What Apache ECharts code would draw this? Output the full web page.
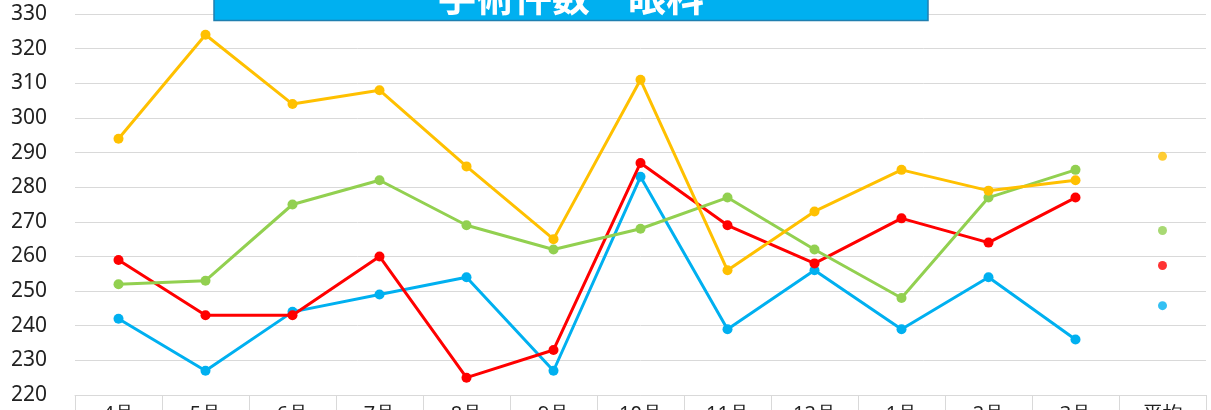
<!DOCTYPE html>
<html lang="ja">
<head>
    <meta charset="UTF-8">
    <title>手術件数 眼科</title>
    <script src="https://cdn.jsdelivr.net/npm/echarts@6/dist/echarts.min.js"></script>
    <style>
        html, body { margin: 0; padding: 0; background: #fff; }
    </style>
</head>
<body>
    <div id="lineDiv" style="width: 1211px;height:410px;"></div>
    <script>
        // 月ごとのカテゴリ
        var months = ['4月','5月','6月','7月','8月','9月','10月','11月','12月','1月','2月','3月','平均'];
        // 各系列の値（12か月）
        var orangeVals = [294, 324, 304, 308, 286, 265, 311, 256, 273, 285, 279, 282];
        var greenVals  = [252, 253, 275, 282, 269, 262, 268, 277, 262, 248, 277, 285];
        var redVals    = [259, 243, 243, 260, 225, 233, 287, 269, 258, 271, 264, 277];
        var blueVals   = [242, 227, 244, 249, 254, 227, 283, 239, 256, 239, 254, 236];
        // 平均の点
        var avgVals = [288.9, 267.5, 257.4, 245.8];
        var yTicks = [220, 330, 10];

        var colors = ['#ffc000', '#92d050', '#ff0000', '#00b0f0'];
        var lineData = [orangeVals, greenVals, redVals, blueVals];

        var mychart = echarts.init(document.getElementById('lineDiv'));

        var series = [];
        // 線
        lineData.forEach(function (vals, i) {
            series.push({
                type: 'line',
                data: vals,
                symbol: 'circle',
                symbolSize: 10,
                lineStyle: { color: colors[i], width: 3 },
                itemStyle: { color: colors[i] },
                z: 10 - i
            });
        });
        // 平均は点だけ
        avgVals.forEach(function (v, i) {
            series.push({
                type: 'scatter',
                data: [['平均', v]],
                symbol: 'circle',
                symbolSize: 9,
                itemStyle: { color: colors[i] }
            });
        });

        var option = {
            animation: false,
            grid: { left: 75, right: 5, top: 14, bottom: 15, outerBoundsMode: 'none', containLabel: false },
            xAxis: {
                type: 'category',
                data: months,
                boundaryGap: true,
                axisLine: { show: true, lineStyle: { color: '#d9d9d9', width: 1 } },
                axisTick: { show: true, length: 30, lineStyle: { color: '#d9d9d9' } },
                axisLabel: { margin: 9, fontSize: 20, color: '#222', fontFamily: 'Noto Sans' }
            },
            yAxis: {
                type: 'value',
                min: yTicks[0],
                max: yTicks[1],
                interval: yTicks[2],
                axisLine: { show: false },
                axisTick: { show: false },
                splitLine: { lineStyle: { color: '#d9d9d9', width: 1 } },
                axisLabel: { margin: 28, fontSize: 21, color: '#222', fontFamily: 'Noto Sans' }
            },
            graphic: [
                {
                    type: 'rect',
                    shape: { x: 214, y: -40, width: 714, height: 60.5 },
                    style: { fill: '#00b0f0', stroke: '#1f7fb0', lineWidth: 1.5 },
                    z: 100
                },
                {
                    type: 'text',
                    x: 571,
                    y: -3,
                    style: {
                        text: '手術件数　眼科',
                        fill: '#fff',
                        font: 'bold 38px "Noto Sans CJK JP"',
                        align: 'center',
                        verticalAlign: 'middle'
                    },
                    z: 101
                }
            ],
            series: series
        };

        mychart.setOption(option, true);
    </script>
</body>
</html>
